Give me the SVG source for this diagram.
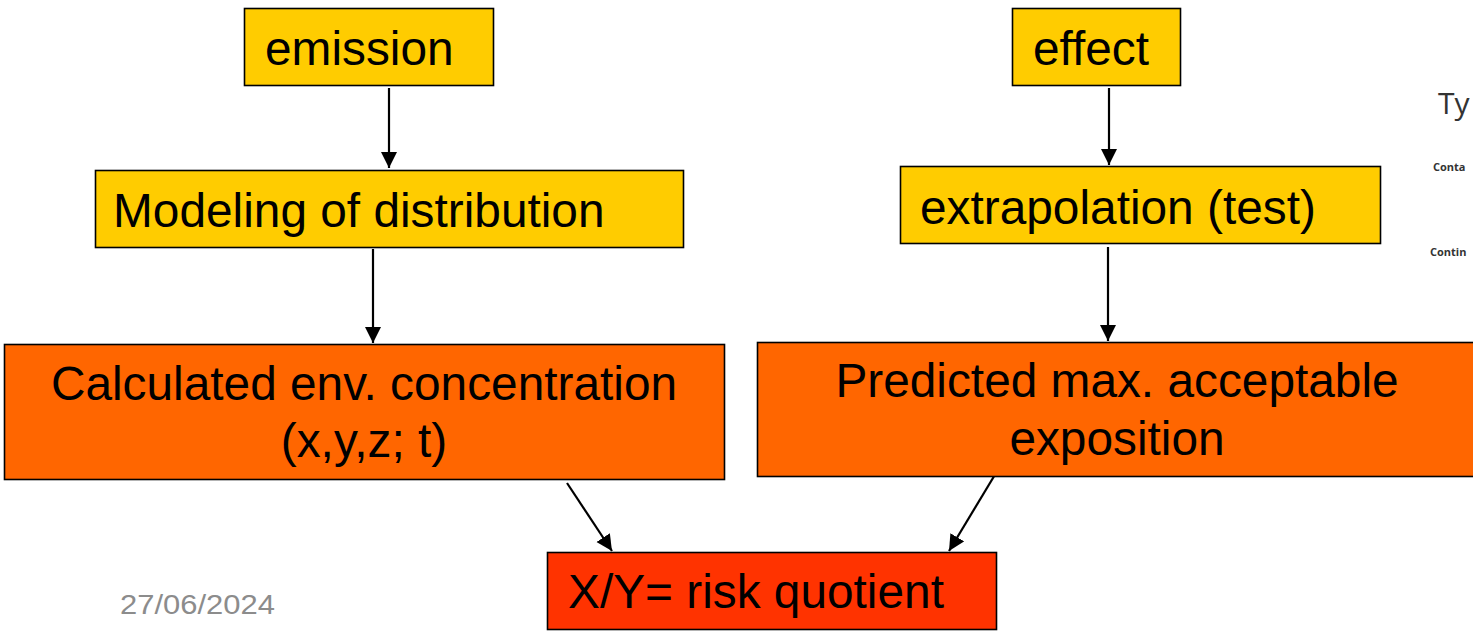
<svg xmlns="http://www.w3.org/2000/svg" width="1473" height="635" viewBox="0 0 1473 635">
<style>
.box{stroke:#000;stroke-width:1.6}
.y{fill:#FFCC00}
.o{fill:#FF6600}
.r{fill:#FF3300}
.t{font-family:"Liberation Sans",Arial,sans-serif;font-size:47.8px;fill:#000}
.c{stroke:#000;stroke-width:2.2;fill:none;marker-end:url(#ah)}
.side{font-family:"Open Sans","Liberation Sans",sans-serif;fill:#333}
</style>
<defs>
<marker id="ah" markerUnits="userSpaceOnUse" markerWidth="16" markerHeight="18" viewBox="0 0 16 18" refX="16" refY="8" orient="auto">
<path d="M0,0 L16,8 L0,16 Z" fill="#000"/>
</marker>
</defs>
<rect width="1473" height="635" fill="#fff"/>
<g id="connectors">
<line class="c" x1="389" y1="88" x2="389" y2="168"/>
<line class="c" x1="373" y1="249" x2="373" y2="343"/>
<line class="c" x1="1109" y1="88" x2="1109" y2="165"/>
<line class="c" x1="1108" y1="247" x2="1108" y2="341"/>
<line class="c" x1="567" y1="483" x2="612" y2="551"/>
<line class="c" x1="996" y1="473" x2="949" y2="551"/>
</g>
<g id="emission">
<rect class="box y" x="244.5" y="8.5" width="249" height="77"/>
<text class="t" x="265" y="65">emission</text>
</g>
<g id="modeling">
<rect class="box y" x="95.5" y="170.5" width="588" height="77"/>
<text class="t" x="113" y="227">Modeling of distribution</text>
</g>
<g id="calculated">
<rect class="box o" x="4.5" y="344.5" width="720" height="135"/>
<text class="t" x="364" y="400" text-anchor="middle">Calculated env. concentration</text>
<text class="t" x="364" y="457" text-anchor="middle">(x,y,z; t)</text>
</g>
<g id="effect">
<rect class="box y" x="1012.5" y="8.5" width="168" height="77"/>
<text class="t" x="1033" y="65">effect</text>
</g>
<g id="extrapolation">
<rect class="box y" x="900.5" y="166.5" width="480" height="77"/>
<text class="t" x="920" y="224">extrapolation (test)</text>
</g>
<g id="predicted">
<rect class="box o" x="757.5" y="342.5" width="720" height="134"/>
<text class="t" x="1117" y="397" text-anchor="middle">Predicted max. acceptable</text>
<text class="t" x="1117" y="455" text-anchor="middle">exposition</text>
</g>
<g id="quotient">
<rect class="box r" x="547.5" y="552.5" width="449" height="77"/>
<text class="t" x="568" y="608">X/Y= risk quotient</text>
</g>
<g id="date">
<text x="120" y="614" font-family="Liberation Sans,Arial,sans-serif" font-size="27" fill="#8c8c8c" textLength="155" lengthAdjust="spacingAndGlyphs">27/06/2024</text>
</g>
<g id="side-fragment">
<text class="side" x="1438" y="114" font-size="30">Ty</text>
<text class="side" x="1433" y="171" font-size="11" font-weight="bold">Conta</text>
<text class="side" x="1430" y="256" font-size="11" font-weight="bold">Contin</text>
</g>
</svg>
